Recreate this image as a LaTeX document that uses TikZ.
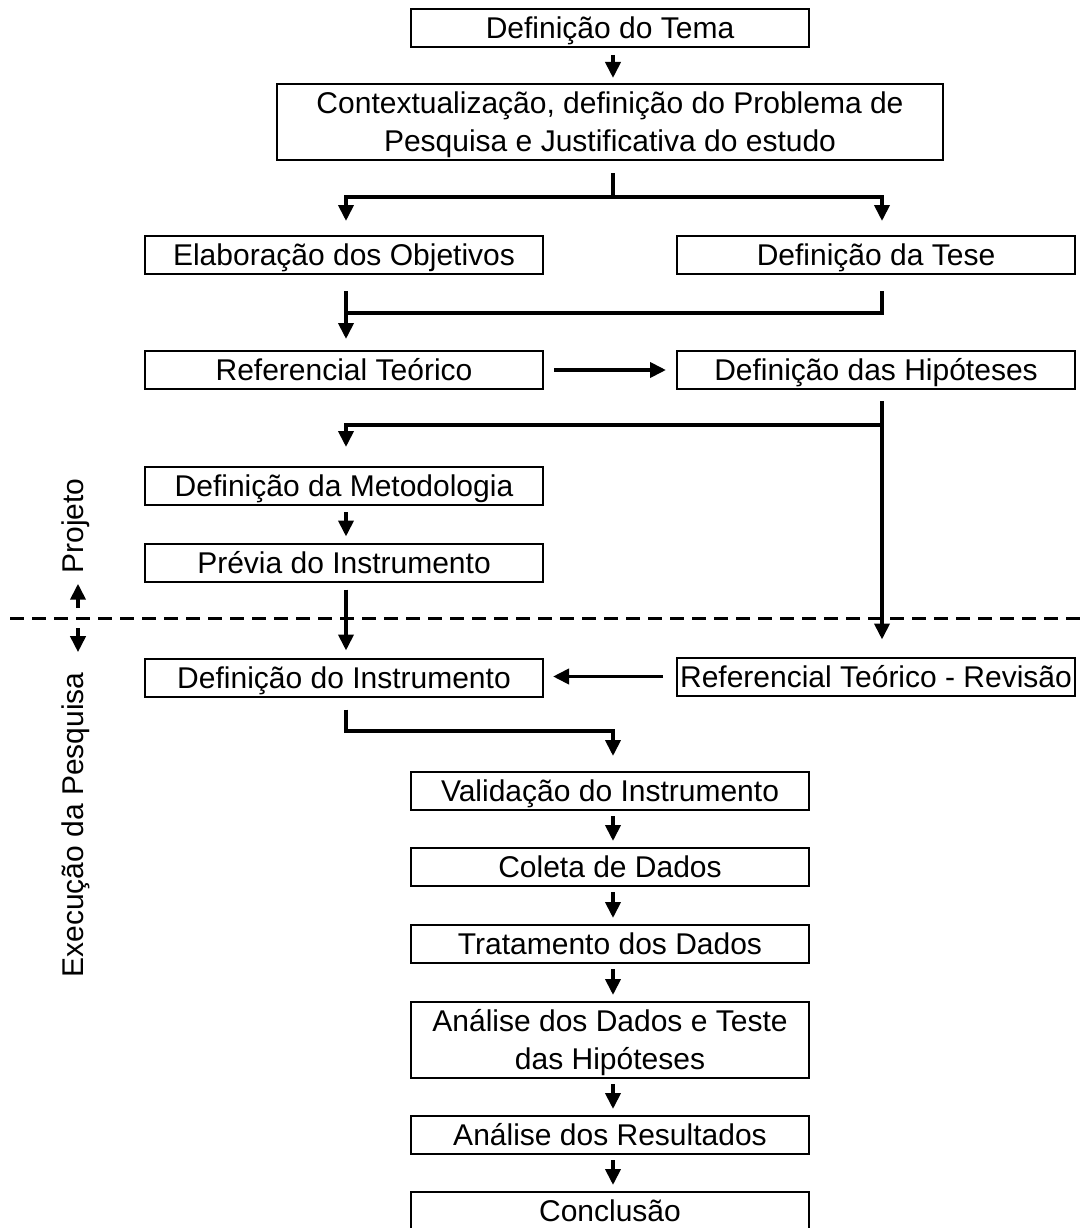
\documentclass[tikz,border=0pt]{standalone}
\usepackage{fontspec}
\setmainfont{Liberation Sans}
\usetikzlibrary{arrows.meta,calc}
\begin{document}
\begin{tikzpicture}[x=1pt,y=-1pt,
  txt/.style={font=\fontsize{30}{38}\selectfont},
  box/.style={txt, draw, line width=2pt, minimum width=398pt, minimum height=38pt,
    inner sep=0pt, align=center, text height=21.5pt, text depth=0pt},
  twolines/.style={minimum height=76pt, text height=59.5pt},
  conn/.style={line width=3.8pt},
  arr/.style={conn, -{Triangle[width=15pt,length=16pt]}},
  phase/.style={txt, rotate=90, anchor=base, inner sep=0pt},
]
\useasboundingbox (0,0) rectangle (1080,1228);

% connector columns
\coordinate (cL) at (346,0);
\coordinate (cM) at (613,0);
\coordinate (cR) at (882,0);
\coordinate (cS) at (78,0);
% junction rows
\coordinate (jA) at (0,197);
\coordinate (jB) at (0,313);
\coordinate (jC) at (0,425);
\coordinate (jD) at (0,731);
\coordinate (jE) at (0,618);

% boxes
\node[box] (tema)  at (610,28)    {Definição do Tema};
\node[box, twolines, minimum width=666pt] (ctx) at (610,122)
  {Contextualização, definição do Problema de\\Pesquisa e Justificativa do estudo};
\node[box] (elab)  at (344,255)   {Elaboração dos Objetivos};
\node[box] (tese)  at (876,255)   {Definição da Tese};
\node[box] (ref)   at (344,370)   {Referencial Teórico};
\node[box] (hip)   at (876,370)   {Definição das Hipóteses};
\node[box] (met)   at (344,486)   {Definição da Metodologia};
\node[box] (prev)  at (344,562.5) {Prévia do Instrumento};
\node[box] (inst)  at (344,677.5) {Definição do Instrumento};
\node[box] (rev)   at (876,676.5) {Referencial Teórico - Revisão};
\node[box] (valid) at (610,791)   {Validação do Instrumento};
\node[box] (col)   at (610,867)   {Coleta de Dados};
\node[box] (trat)  at (610,944)   {Tratamento dos Dados};
\node[box, twolines] (anal) at (610,1040)
  {Análise dos Dados e Teste\\das Hipóteses};
\node[box] (res)   at (610,1135)  {Análise dos Resultados};
\node[box] (conc)  at (610,1211)  {Conclusão};

% phase labels
\node[phase] (proj) at (83,526) {Projeto};
\node[phase] (exec) at (83,825) {Execução da Pesquisa};

% phase divider
\draw[line width=3pt, dash pattern=on 14pt off 8pt] (10,618) -- (1080,618);
\draw[arr, shorten <=10, shorten >=10] (cS|-jE) -- (cS|-proj.west);
\draw[arr, shorten <=10, shorten >=20] (cS|-jE) -- (cS|-exec.east);

% flow
\draw[arr, shorten <=7, shorten >=5] (cM|-tema.south) -- (cM|-ctx.north);
\draw[conn, shorten <=12] (cM|-ctx.south) -- (cM|-jA);
\draw[arr, shorten >=14] (cM|-jA) -| (cL|-elab.north);
\draw[arr, shorten >=14] (cM|-jA) -| (cR|-tese.north);

\draw[arr, shorten <=16, shorten >=11] (cL|-elab.south) -- (cL|-ref.north);
\draw[conn, shorten <=16] (cR|-tese.south) |- (cL|-jB);

\draw[arr, shorten <=10, shorten >=10] (ref.east) -- (hip.west);

\draw[arr, shorten <=11, shorten >=17] (cR|-hip.south) -- (cR|-rev.north);
\draw[arr, shorten >=19] (cR|-jC) -| (cL|-met.north);

\draw[arr, shorten <=6, shorten >=6] (cL|-met.south) -- (cL|-prev.north);
\draw[arr, shorten <=7, shorten >=7] (cL|-prev.south) -- (cL|-inst.north);
\draw[arr, shorten <=13, shorten >=9] (rev.west) -- (rev.west-|inst.east);

\draw[arr, shorten <=12, shorten >=15] (cL|-inst.south) |- (cM|-jD) -- (cM|-valid.north);

\draw[arr, shorten <=5, shorten >=6] (cM|-valid.south) -- (cM|-col.north);
\draw[arr, shorten <=5, shorten >=6] (cM|-col.south) -- (cM|-trat.north);
\draw[arr, shorten <=5, shorten >=6] (cM|-trat.south) -- (cM|-anal.north);
\draw[arr, shorten <=5, shorten >=6] (cM|-anal.south) -- (cM|-res.north);
\draw[arr, shorten <=5, shorten >=6] (cM|-res.south) -- (cM|-conc.north);
\end{tikzpicture}
\end{document}
